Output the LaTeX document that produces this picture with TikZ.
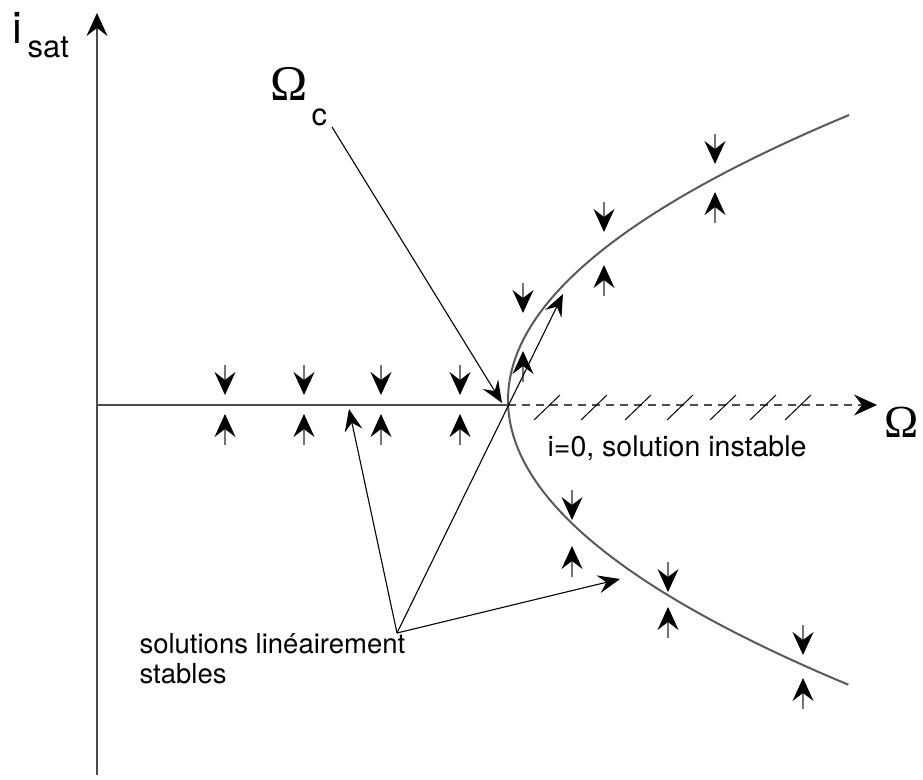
\documentclass[tikz,border=0pt]{standalone}
\usepackage{fontspec}
\setmainfont{TeX Gyre Heros}
\newfontfamily\omegafont{Liberation Serif}
\usetikzlibrary{arrows.meta}

\begin{document}
\begin{tikzpicture}[x=1pt, y=-1pt, line width=1.1pt, every node/.style={inner sep=0pt, anchor=base west}]
    \tikzstyle{axis} = [draw=black!70, -{Stealth[length=23pt, width=21pt, inset=8pt, color=black]}]
    \tikzstyle{branch} = [draw=black!65, line width=2pt]
    \tikzstyle{flowtip} = [draw=black!55, -{Stealth[length=23pt, width=21pt, inset=8pt, color=black]}]
    \tikzstyle{pointer} = [draw=black, -{Stealth[length=22pt, width=18pt, inset=8pt]}]
    \tikzstyle{annot} = [font=\fontsize{28}{30}\selectfont, align=left]

    \useasboundingbox (0,0) rectangle (923,779);

    % axes
    \draw[axis] (97,775) -- (97,13);
    \draw[draw=black!70] (97,405) -- (508,405);
    \draw[axis, dash pattern=on 8pt off 6pt] (508,405) -- (877,405);
    \foreach \x in {547,594,638,680,723,763,798}
        \draw[black, line width=1pt] (\x-13,420) -- (\x+13,395);

    % branches
    \draw[branch] plot[domain=-1:1, samples=90, variable=\t] ({508+341*\t*\t},{400+285*\t});

    % stability arrows
    \foreach \x/\ya/\yb in {225/365/445, 304/365/445, 381/365/445, 460/365/445, 523/283/382,
                            604/202/296, 715/134/223, 572/490/577, 668/562/638, 803/625/709} {
        \draw[flowtip] (\x,\ya) -- (\x,\ya+30);
        \draw[flowtip] (\x,\yb) -- (\x,\yb-31);
    }

    % labels
    \node (isat) at (12,43) {\fontsize{44}{44}\selectfont i};
    \node (isatsub) at (27,57) {\fontsize{31}{31}\selectfont sat};
    \node (omegac) at (270,100) {\omegafont\fontsize{50}{50}\selectfont Ω};
    \node (omegacsub) at (311,125) {\fontsize{31}{31}\selectfont c};
    \node (omega) at (884,437) {\omegafont\fontsize{46}{46}\selectfont Ω};
    \node (instab) at (547,456) [annot, font=\fontsize{28.5}{30}\selectfont] {i=0, solution instable};
    \node (stab) at (139,683) [annot, font=\fontsize{27.5}{30}\selectfont] {solutions linéairement\\stables};

    % pointers
    \coordinate (omegacfoot) at (332,127);
    \coordinate (crit) at (502,403);
    \coordinate (stabroot) at (397,633);
    \coordinate (stabaxis) at (349,409);
    \coordinate (stabupper) at (563,294);
    \coordinate (stablower) at (620,579);

    \draw[pointer] (omegacfoot) -- (crit);
    \draw[pointer] (stabroot) -- (stabaxis);
    \draw[pointer] (stabroot) -- (stabupper);
    \draw[pointer] (stabroot) -- (stablower);
\end{tikzpicture}
\end{document}
